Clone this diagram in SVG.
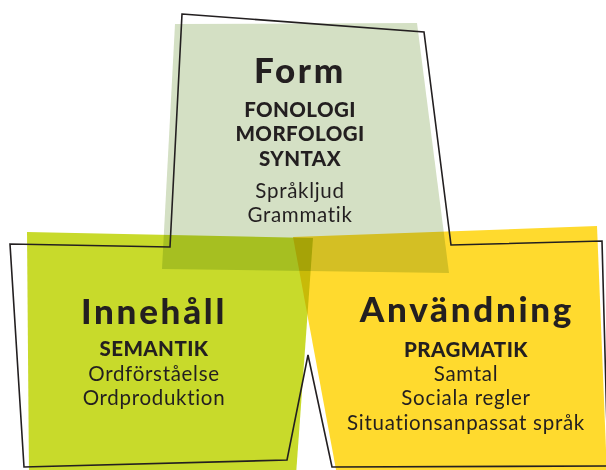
<svg xmlns="http://www.w3.org/2000/svg" width="606" height="470" viewBox="0 0 606 470">
<style>
.shape{mix-blend-mode:multiply}
text{font-family:Lato,"Open Sans","Liberation Sans",sans-serif;fill:#231f20;text-anchor:middle}
.h{font-size:35px;font-weight:900;letter-spacing:2.7px}
.s{font-size:20.5px;font-weight:900;letter-spacing:0.4px}
.r{font-size:20.5px;font-weight:400;letter-spacing:0.7px}
</style>
<rect width="606" height="470" fill="#ffffff"/>
<g id="innehall">
<polygon class="shape" points="27,232 313,238 296,475 29,475" fill="#c8da2b"/>
</g>
<g id="anvandning">
<polygon class="shape" points="293,237 597,226 607,475 337,475" fill="#ffda2e"/>
</g>
<g id="form">
<polygon class="shape" points="175,24 417,23 449,273 162,269" fill="#d4e0c4"/>
</g>
<g id="outline">
<path d="M182,14 L424,32 L451,245 L602,241 L608,466 L332,467 L308,355 L287,460 L24,467 L10,244 L170,247 Z" fill="none" stroke="#231f20" stroke-width="1.6" stroke-linejoin="miter"/>
</g>
<g id="form-text">
<text class="h" x="300" y="83">Form</text>
<text class="s" x="300" y="117">FONOLOGI</text>
<text class="s" x="300" y="141">MORFOLOGI</text>
<text class="s" x="300" y="166">SYNTAX</text>
<text class="r" x="300" y="198">Språkljud</text>
<text class="r" x="300" y="222">Grammatik</text>
</g>
<g id="innehall-text">
<text class="h" x="154" y="324">Innehåll</text>
<text class="s" x="154" y="356">SEMANTIK</text>
<text class="r" x="154" y="381">Ordförståelse</text>
<text class="r" x="154" y="405">Ordproduktion</text>
</g>
<g id="anvandning-text">
<text class="h" x="467" y="322">Användning</text>
<text class="s" x="466" y="357">PRAGMATIK</text>
<text class="r" x="466" y="381">Samtal</text>
<text class="r" x="466" y="405">Sociala regler</text>
<text class="r" x="466" y="430">Situationsanpassat språk</text>
</g>
</svg>
